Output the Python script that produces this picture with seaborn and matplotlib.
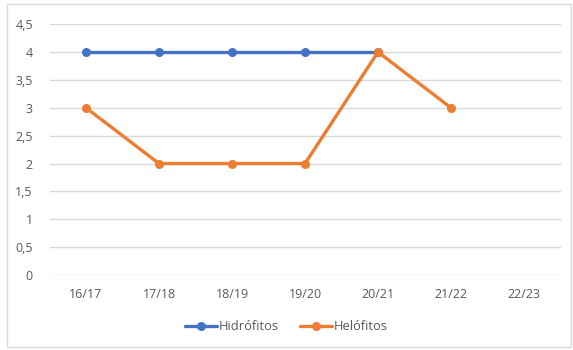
import pandas as pd
import numpy as np
import matplotlib
matplotlib.use('Agg')
import matplotlib.pyplot as plt
import seaborn as sns
from matplotlib.patches import Rectangle

seasons = ['16/17', '17/18', '18/19', '19/20', '20/21', '21/22', '22/23']
hidrofitos = [4, 4, 4, 4, 4, np.nan, np.nan]
helofitos = [3, 2, 2, 2, 4, 3, np.nan]
yticks = [0, 0.5, 1, 1.5, 2, 2.5, 3, 3.5, 4, 4.5]

df = pd.DataFrame({'pos': range(len(seasons)), 'Hidrófitos': hidrofitos, 'Helófitos': helofitos})
df = df.melt(id_vars='pos', var_name='serie', value_name='valor').dropna()

sns.set_style('white')
plt.rcParams['font.family'] = ['Open Sans', 'DejaVu Sans']

fig = plt.figure(figsize=(5.73, 3.5), dpi=100)
ax = fig.add_axes([0.0864, 0.214, 0.8918, 0.717])
fig.patches.append(Rectangle((7 / 573, 3 / 350), 564 / 573, 343 / 350, transform=fig.transFigure,
                             fill=False, edgecolor='#D9D9D9', linewidth=1))

colors = {'Hidrófitos': '#4472C4', 'Helófitos': '#ED7D31'}
sns.lineplot(data=df, x='pos', y='valor', hue='serie', palette=colors, marker='o',
             markersize=6.5, markeredgewidth=0, linewidth=2.4, ax=ax, legend=False)

ax.set_xlim(-0.5, len(seasons) - 0.5)
ax.set_ylim(0, 4.5)
ax.set_xticks(range(len(seasons)))
ax.set_xticklabels(seasons)
ax.set_yticks(yticks)
ax.set_yticklabels([f'{v:g}'.replace('.', ',') for v in yticks])
ax.yaxis.grid(True, color='#D9D9D9', linewidth=1)
ax.set_axisbelow(True)
for s in ax.spines.values():
    s.set_visible(False)
ax.tick_params(axis='both', length=0, labelsize=9, labelcolor='#595959')
ax.tick_params(axis='y', pad=12)
ax.tick_params(axis='x', pad=9)
ax.set_xlabel('')
ax.set_ylabel('')

handles = [plt.Line2D([], [], color=c, marker='o', markersize=6.5, markeredgewidth=0, linewidth=2.4)
           for c in colors.values()]
fig.legend(handles, list(colors.keys()), loc='center', bbox_to_anchor=(0.5, 0.066), ncol=2,
           frameon=False, fontsize=9.3, labelcolor='#595959', handlelength=2.5,
           handletextpad=0.15, columnspacing=1.6)

fig.savefig('out.png', dpi=100)
